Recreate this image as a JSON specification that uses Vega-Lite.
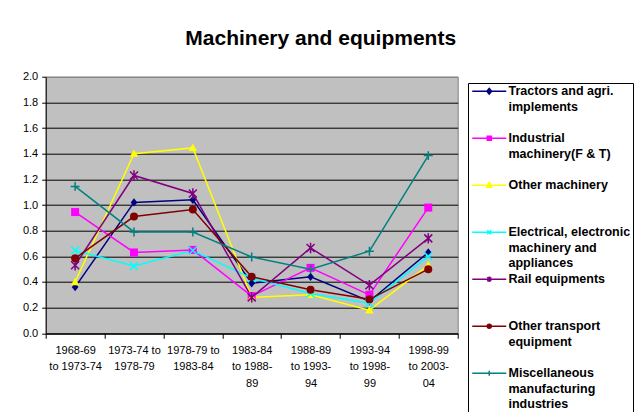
{
  "$schema": "https://vega.github.io/schema/vega-lite/v6.json",
  "autosize": "none",
  "width": 412,
  "height": 256.6,
  "padding": {"left": 45.7, "top": 76.7, "right": 181.3, "bottom": 78.7},
  "background": "white",
  "title": {
    "text": "Machinery and equipments",
    "font": "Liberation Sans",
    "fontSize": 21,
    "fontWeight": "bold",
    "color": "black",
    "anchor": "middle",
    "frame": "group",
    "dx": 69,
    "baseline": "alphabetic",
    "offset": 5
  },
  "config": {
    "font": "Liberation Sans",
    "view": {"stroke": "#808080", "strokeWidth": 1, "fill": "#C0C0C0"}
  },
  "data": {
    "values": [
      {"period": "1968-69 to 1973-74", "series": "Tractors and agri. implements", "value": 0.36},
      {"period": "1973-74 to 1978-79", "series": "Tractors and agri. implements", "value": 1.02},
      {"period": "1978-79 to 1983-84", "series": "Tractors and agri. implements", "value": 1.04},
      {"period": "1983-84 to 1988-89", "series": "Tractors and agri. implements", "value": 0.39},
      {"period": "1988-89 to 1993-94", "series": "Tractors and agri. implements", "value": 0.44},
      {"period": "1993-94 to 1998-99", "series": "Tractors and agri. implements", "value": 0.25},
      {"period": "1998-99 to 2003-04", "series": "Tractors and agri. implements", "value": 0.63},
      {"period": "1968-69 to 1973-74", "series": "Industrial machinery(F & T)", "value": 0.945},
      {"period": "1973-74 to 1978-79", "series": "Industrial machinery(F & T)", "value": 0.63},
      {"period": "1978-79 to 1983-84", "series": "Industrial machinery(F & T)", "value": 0.65},
      {"period": "1983-84 to 1988-89", "series": "Industrial machinery(F & T)", "value": 0.29},
      {"period": "1988-89 to 1993-94", "series": "Industrial machinery(F & T)", "value": 0.51},
      {"period": "1993-94 to 1998-99", "series": "Industrial machinery(F & T)", "value": 0.30},
      {"period": "1998-99 to 2003-04", "series": "Industrial machinery(F & T)", "value": 0.98},
      {"period": "1968-69 to 1973-74", "series": "Other machinery", "value": 0.40},
      {"period": "1973-74 to 1978-79", "series": "Other machinery", "value": 1.40},
      {"period": "1978-79 to 1983-84", "series": "Other machinery", "value": 1.445},
      {"period": "1983-84 to 1988-89", "series": "Other machinery", "value": 0.28},
      {"period": "1988-89 to 1993-94", "series": "Other machinery", "value": 0.30},
      {"period": "1993-94 to 1998-99", "series": "Other machinery", "value": 0.18},
      {"period": "1998-99 to 2003-04", "series": "Other machinery", "value": 0.53},
      {"period": "1968-69 to 1973-74", "series": "Electrical, electronic machinery and appliances", "value": 0.645},
      {"period": "1973-74 to 1978-79", "series": "Electrical, electronic machinery and appliances", "value": 0.525},
      {"period": "1978-79 to 1983-84", "series": "Electrical, electronic machinery and appliances", "value": 0.645},
      {"period": "1983-84 to 1988-89", "series": "Electrical, electronic machinery and appliances", "value": 0.43},
      {"period": "1988-89 to 1993-94", "series": "Electrical, electronic machinery and appliances", "value": 0.31},
      {"period": "1993-94 to 1998-99", "series": "Electrical, electronic machinery and appliances", "value": 0.235},
      {"period": "1998-99 to 2003-04", "series": "Electrical, electronic machinery and appliances", "value": 0.60},
      {"period": "1968-69 to 1973-74", "series": "Rail equipments", "value": 0.53},
      {"period": "1973-74 to 1978-79", "series": "Rail equipments", "value": 1.23},
      {"period": "1978-79 to 1983-84", "series": "Rail equipments", "value": 1.09},
      {"period": "1983-84 to 1988-89", "series": "Rail equipments", "value": 0.28},
      {"period": "1988-89 to 1993-94", "series": "Rail equipments", "value": 0.665},
      {"period": "1993-94 to 1998-99", "series": "Rail equipments", "value": 0.375},
      {"period": "1998-99 to 2003-04", "series": "Rail equipments", "value": 0.74},
      {"period": "1968-69 to 1973-74", "series": "Other transport equipment", "value": 0.585},
      {"period": "1973-74 to 1978-79", "series": "Other transport equipment", "value": 0.91},
      {"period": "1978-79 to 1983-84", "series": "Other transport equipment", "value": 0.965},
      {"period": "1983-84 to 1988-89", "series": "Other transport equipment", "value": 0.44},
      {"period": "1988-89 to 1993-94", "series": "Other transport equipment", "value": 0.34},
      {"period": "1993-94 to 1998-99", "series": "Other transport equipment", "value": 0.265},
      {"period": "1998-99 to 2003-04", "series": "Other transport equipment", "value": 0.50},
      {"period": "1968-69 to 1973-74", "series": "Miscellaneous manufacturing industries", "value": 1.145},
      {"period": "1973-74 to 1978-79", "series": "Miscellaneous manufacturing industries", "value": 0.79},
      {"period": "1978-79 to 1983-84", "series": "Miscellaneous manufacturing industries", "value": 0.79},
      {"period": "1983-84 to 1988-89", "series": "Miscellaneous manufacturing industries", "value": 0.595},
      {"period": "1988-89 to 1993-94", "series": "Miscellaneous manufacturing industries", "value": 0.50},
      {"period": "1993-94 to 1998-99", "series": "Miscellaneous manufacturing industries", "value": 0.64},
      {"period": "1998-99 to 2003-04", "series": "Miscellaneous manufacturing industries", "value": 1.385}
    ]
  },
  "encoding": {
    "x": {
      "field": "period",
      "type": "nominal",
      "sort": null,
      "scale": {"paddingInner": 0, "paddingOuter": 0},
      "axis": {
        "title": null,
        "labelAngle": 0,
        "labelBaseline": "top",
        "labelFontSize": 11,
        "labelColor": "black",
        "labelLineHeight": 16.5,
        "labelPadding": 6,
        "labelLimit": 100,
        "tickBand": "extent",
        "tickSize": 5,
        "tickColor": "black",
        "domainColor": "black",
        "grid": false,
        "labelExpr": "[['1968-69','to 1973-74'],['1973-74 to','1978-79'],['1978-79 to','1983-84'],['1983-84','to 1988-','89'],['1988-89','to 1993-','94'],['1993-94','to 1998-','99'],['1998-99','to 2003-','04']][indexof(['1968-69 to 1973-74','1973-74 to 1978-79','1978-79 to 1983-84','1983-84 to 1988-89','1988-89 to 1993-94','1993-94 to 1998-99','1998-99 to 2003-04'], datum.label)]"
      }
    },
    "y": {
      "field": "value",
      "type": "quantitative",
      "scale": {"domain": [0, 2], "nice": false},
      "axis": {
        "title": null,
        "values": [0, 0.2, 0.4, 0.6, 0.8, 1.0, 1.2, 1.4, 1.6, 1.8, 2.0],
        "format": ".1f",
        "labelFontSize": 11,
        "labelColor": "black",
        "labelPadding": 4,
        "tickSize": 4,
        "tickColor": "black",
        "domainColor": "black",
        "grid": true,
        "gridColor": {"condition": {"test": "datum.value >= 2", "value": "#808080"}, "value": "black"},
        "gridOpacity": 1,
        "gridWidth": 1
      }
    },
    "color": {
      "field": "series",
      "type": "nominal",
      "sort": null,
      "scale": {
        "domain": ["Tractors and agri. implements", "Industrial machinery(F & T)", "Other machinery", "Electrical, electronic machinery and appliances", "Rail equipments", "Other transport equipment", "Miscellaneous manufacturing industries"],
        "range": ["#000080", "#FF00FF", "#FFFF00", "#00FFFF", "#800080", "#800000", "#008080"]
      },
      "legend": {
        "title": null,
        "orient": "none",
        "legendX": 422.3,
        "legendY": 6.3,
        "padding": 2,
        "strokeColor": "black",
        "fillColor": "white",
        "symbolSize": 64,
        "symbolType": "M-4.25,0L4.25,0",
        "symbolOffset": 13,
        "labelFont": "Liberation Sans",
        "labelFontSize": 12.5,
        "labelFontWeight": "bold",
        "labelColor": "black",
        "labelOffset": 13,
        "labelLimit": 200,
        "labelBaseline": "top",
        "rowPadding": 3,
        "gridAlign": "all",
        "labelExpr": "[['Tractors and agri.','implements'],['Industrial','machinery(F & T)'],['Other machinery'],['Electrical, electronic','machinery and','appliances'],['Rail equipments'],['Other transport','equipment'],['Miscellaneous','manufacturing','industries']][indexof(['Tractors and agri. implements','Industrial machinery(F & T)','Other machinery','Electrical, electronic machinery and appliances','Rail equipments','Other transport equipment','Miscellaneous manufacturing industries'], datum.label)]",
        "encode": {
          "symbols": {
            "update": {
              "shape": {"signal": "['M-4.25,0L4.25,0M0,-0.72L0.6,0L0,0.72L-0.6,0Z','M-4.25,0L4.25,0M-0.5,-0.5L0.5,-0.5L0.5,0.5L-0.5,0.5Z','M-4.25,0L4.25,0M0,-0.72L0.64,0.47L-0.64,0.47Z','M-4.25,0L4.25,0M-0.5,-0.5L0.5,0.5M-0.5,0.5L0.5,-0.5','M-4.25,0L4.25,0M-0.5,-0.5L0.5,0.5M-0.5,0.5L0.5,-0.5M0,-0.68L0,0.68','M-4.25,0L4.25,0M-0.5,0A0.5,0.5,0,1,1,0.5,0A0.5,0.5,0,1,1,-0.5,0Z','M-4.25,0L4.25,0M0,-0.64L0,0.64'][indexof(['Tractors and agri. implements','Industrial machinery(F & T)','Other machinery','Electrical, electronic machinery and appliances','Rail equipments','Other transport equipment','Miscellaneous manufacturing industries'], datum.value)]"},
              "stroke": {"scale": "color", "field": "value"},
              "fill": {"scale": "color", "field": "value"},
              "strokeWidth": {"value": 1.5},
              "size": {"value": 64},
              "opacity": {"value": 1}
            }
          },
          "labels": {
            "update": {
              "lineHeight": {"value": 15.5},
              "dy": {"value": -6}
            }
          }
        }
      }
    }
  },
  "layer": [
    {"mark": {"type": "line", "strokeWidth": 1.5}},
    {
      "transform": [{"filter": {"field": "series", "equal": "Tractors and agri. implements"}}],
      "mark": {"type": "point", "shape": "M0,-1L0.8,0L0,1L-0.8,0Z", "filled": true, "opacity": 1, "size": 70}
    },
    {
      "transform": [{"filter": {"field": "series", "equal": "Industrial machinery(F & T)"}}],
      "mark": {"type": "point", "shape": "square", "filled": true, "opacity": 1, "size": 64}
    },
    {
      "transform": [{"filter": {"field": "series", "equal": "Other machinery"}}],
      "mark": {"type": "point", "shape": "M0,-1L1,0.75L-1,0.75Z", "filled": true, "opacity": 1, "size": 72}
    },
    {
      "transform": [{"filter": {"field": "series", "equal": "Electrical, electronic machinery and appliances"}}],
      "mark": {"type": "point", "shape": "M-1,-1L1,1M-1,1L1,-1", "filled": false, "opacity": 1, "size": 64, "strokeWidth": 1.5}
    },
    {
      "transform": [{"filter": {"field": "series", "equal": "Rail equipments"}}],
      "mark": {"type": "point", "shape": "M-1,-1L1,1M-1,1L1,-1M0,-1.3L0,1.3", "filled": false, "opacity": 1, "size": 64, "strokeWidth": 1.5}
    },
    {
      "transform": [{"filter": {"field": "series", "equal": "Other transport equipment"}}],
      "mark": {"type": "point", "shape": "circle", "filled": true, "opacity": 1, "size": 64}
    },
    {
      "transform": [{"filter": {"field": "series", "equal": "Miscellaneous manufacturing industries"}}],
      "mark": {"type": "point", "shape": "M-1,0L1,0M0,-1L0,1", "filled": false, "opacity": 1, "size": 80, "strokeWidth": 1.5}
    }
  ]
}
